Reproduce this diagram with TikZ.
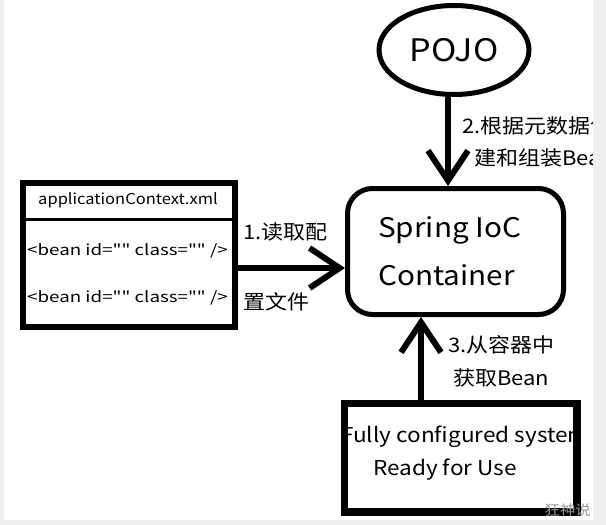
\documentclass[tikz,border=0pt]{standalone}
\usepackage{fontspec}
\setmainfont{Noto Sans CJK SC}[FakeStretch=1.1]
\newfontfamily\beanfont{Noto Sans CJK SC}[FakeStretch=1.25]
\usetikzlibrary{arrows.meta,shapes.geometric}
\definecolor{edgegray}{RGB}{239,239,239}
\definecolor{markgray}{RGB}{150,150,150}
\tikzset{
  conn/.style={line width=6pt,-{Straight Barb[length=30pt,width=40pt]}},
  thickbox/.style={draw,line width=5pt,inner sep=0pt},
  lbl/.style={anchor=west,inner sep=0pt,font=\fontsize{20}{20}\selectfont},
  beanline/.style={anchor=west,inner sep=0pt,font=\beanfont\fontsize{15}{15}\selectfont}
}
\begin{document}
\begin{tikzpicture}[x=1pt,y=-1pt]
\useasboundingbox (0,0) rectangle (606,525);
\fill[white] (0,0) rectangle (606,525);
% POJO
\node[thickbox,ellipse,minimum width=150pt,minimum height=89pt,
  font=\fontsize{31}{31}\selectfont] (pojo) at (454,50) {POJO};
% container
\node[thickbox,rounded corners=25pt,minimum width=216pt,minimum height=126pt] (ioc) at (455.5,251.5) {};
\node[anchor=west,inner sep=0pt,font=\fontsize{27}{27}\selectfont] (ioc1) at (378,230) {Spring IoC};
\node[anchor=west,inner sep=0pt,font=\fontsize{27}{27}\selectfont] (ioc2) at (378,275) {Container};
% applicationContext.xml
\node[thickbox,line width=6pt,minimum width=212pt,minimum height=144pt] (xml) at (129,255) {};
\coordinate (split) at (0,219);
\draw[line width=3pt] (xml.west |- split) -- (xml.east |- split);
\node[inner sep=0pt,font=\fontsize{15}{15}\selectfont] (title) at (128,200) {applicationContext.xml};
\node[beanline] (bean1) at (27,251) {<bean id="" class="" />};
\node[beanline] (bean2) at (27,298) {<bean id="" class="" />};
% system
\node[thickbox,minimum width=230pt,minimum height=106pt] (sys) at (460.5,457.5) {};
\begin{scope}
\clip (343,402) rectangle (578,513);
\node[anchor=west,inner sep=0pt,font=\fontsize{20.5}{20.5}\selectfont] (sys1) at (341,437) {Fully configured system};
\end{scope}
\node[inner sep=0pt,font=\fontsize{20.5}{20.5}\selectfont] (sys2) at (445,470) {Ready for Use};
\draw[line width=5pt] (sys.north west) rectangle (sys.south east);
% connectors
\draw[conn] ([yshift=-13pt]xml.east) -- ([yshift=-13pt]xml.east -| ioc.west);
\draw[conn] (pojo.south -| 448,0) -- (ioc.north -| 448,0);
\draw[conn] (sys.north -| 421,0) -- (ioc.south -| 421,0);
% labels
\node[lbl] (l1a) at (243,232) {1.读取配};
\node[lbl] (l1b) at (243,302) {置文件};
\node[lbl] (l2a) at (462,126) {2.根据元数据创};
\node[lbl] (l2b) at (474,158) {建和组装Bean};
\node[lbl] (l3a) at (448,345) {3.从容器中};
\node[lbl] (l3b) at (453,378) {获取Bean};
% page edges
\fill[edgegray] (0,0) rectangle (4,525);
\fill[edgegray] (593,0) rectangle (606,525);
\fill[edgegray] (0,520) rectangle (606,525);
\node[anchor=east,inner sep=0pt,text=markgray,font=\fontsize{14}{14}\selectfont] (mark) at (591,510) {狂神说};
\end{tikzpicture}
\end{document}
